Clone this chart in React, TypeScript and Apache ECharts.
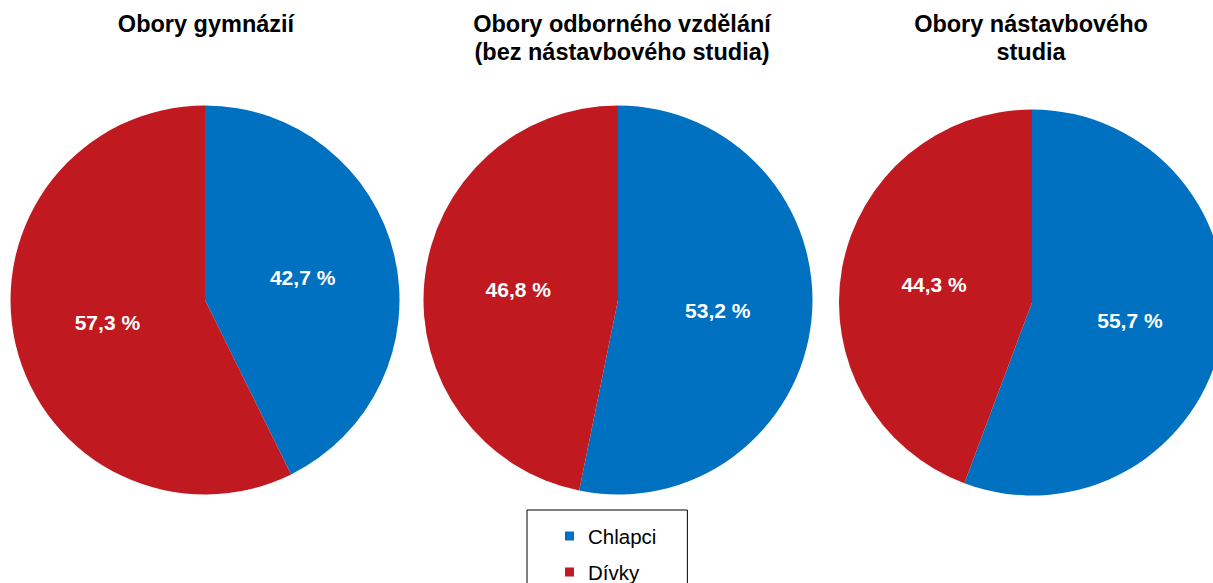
import React, { useEffect, useRef } from "react";
import * as echarts from "echarts";

const categories = ["Chlapci", "Dívky"];
const pieTitles = [
  "Obory gymnázií",
  "Obory odborného vzdělání\n(bez nástavbového studia)",
  "Obory nástavbového\nstudia",
];
const gymnaziaValues = [42.7, 57.3];
const odborneValues = [53.2, 46.8];
const nastavboveValues = [55.7, 44.3];

const colors = ["#0070c0", "#c0191f"];
const FONT = "'Liberation Sans', Arial, sans-serif";

const fmt = (v: number) => v.toFixed(1).replace(".", ",") + " %";

export default function App() {
  const ref = useRef<HTMLDivElement>(null);
  useEffect(() => {
    if (!ref.current) return;
    const chart = echarts.init(ref.current, null, { renderer: "svg" });
    const valuesList = [gymnaziaValues, odborneValues, nastavboveValues];
    const centers: [number, number][] = [
      [205, 300],
      [618, 300],
      [1032, 302.5],
    ];
    const radii = [194.5, 194.5, 193];
    const titleX = [201, 617, 1026];
    const option: any = {
      animation: false,
      color: colors,
      textStyle: { fontFamily: FONT },
      title: pieTitles.map((t, i) => ({
        text: t,
        left: titleX[i],
        top: 5,
        textAlign: "center",
        textStyle: {
          fontFamily: FONT,
          fontSize: 23.5,
          fontWeight: "bold",
          color: "#000",
          lineHeight: 28,
        },
      })),
      legend: {
        orient: "vertical",
        left: 527,
        top: 510,
        height: 150,
        data: categories,
        icon: "rect",
        itemWidth: 9,
        itemHeight: 9,
        itemGap: 12,
        padding: [14, 31, 14, 38],
        borderColor: "#000",
        borderWidth: 1,
        textStyle: {
          fontFamily: FONT,
          fontSize: 20.5,
          color: "#000",
          lineHeight: 24,
          padding: [0, 0, 0, 9],
        },
      },
      series: valuesList.map((vals, i) => ({
        type: "pie",
        center: centers[i],
        radius: radii[i],
        startAngle: 90,
        clockwise: true,
        silent: true,
        label: {
          show: true,
          position: "inside",
          formatter: (p: any) => fmt(p.value),
          color: "#fff",
          fontFamily: FONT,
          fontWeight: "bold",
          fontSize: 21,
        },
        labelLine: { show: false },
        data: categories.map((c, j) => ({ name: c, value: vals[j] })),
      })),
    };
    chart.setOption(option);
    return () => chart.dispose();
  }, []);
  return (
    <div
      ref={ref}
      style={{ position: "absolute", left: 0, top: 0, width: 1213, height: 583 }}
    />
  );
}
